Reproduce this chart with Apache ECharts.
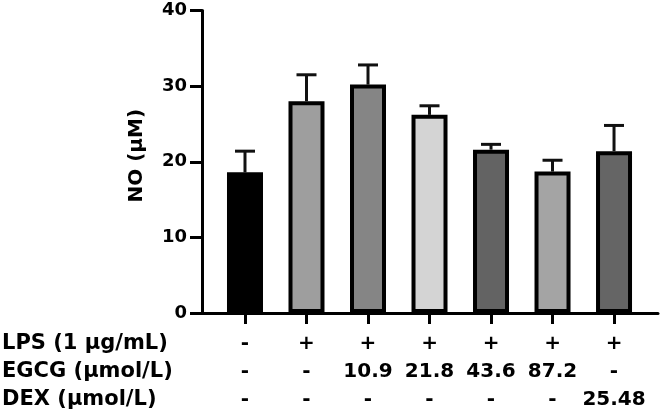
<!DOCTYPE html>
<html>
<head>
<meta charset="utf-8">
<script src="https://cdn.jsdelivr.net/npm/echarts@6/dist/echarts.min.js"></script>
<style>
html,body{margin:0;padding:0;background:#fff;}
#chart{width:661px;height:420px;}
</style>
</head>
<body>
<div id="chart"></div>
<script>
// Data
var groups = [0, 1, 2, 3, 4, 5, 6];
var meanNO = [18.6, 28.0, 30.2, 26.2, 21.6, 18.7, 21.4];
var sdNO = [2.8, 3.5, 2.6, 1.2, 0.7, 1.5, 3.4];
var barColors = ['#000000', '#9e9e9e', '#858585', '#d4d4d4', '#636363', '#a4a4a4', '#656565'];
var rowNames = ['LPS (1 μg/mL)', 'EGCG (μmol/L)', 'DEX (μmol/L)'];
var lpsRow = ['-', '+', '+', '+', '+', '+', '+'];
var egcgRow = ['-', '-', '10.9', '21.8', '43.6', '87.2', '-'];
var dexRow = ['-', '-', '-', '-', '-', '-', '25.48'];
var yTicks = [0, 10, 20, 30, 40];

var FONT = '"DejaVu Sans", Arial, sans-serif';
var chart = echarts.init(document.getElementById('chart'));

var barData = groups.map(function (g, i) {
  return { value: [g, meanNO[i]], itemStyle: { color: barColors[i], borderColor: '#000', borderWidth: 4 } };
});
var errData = groups.map(function (g, i) {
  return [g, meanNO[i], meanNO[i] + sdNO[i]];
});

chart.setOption({
  animation: false,
  backgroundColor: '#fff',
  title: {
    text: rowNames.join('\n'),
    left: 2,
    top: 330,
    padding: 0,
    textStyle: { fontFamily: FONT, fontWeight: 'bold', fontSize: 21, lineHeight: 28, color: '#000' }
  },
  grid: { left: 202, right: 3, top: 10.5, bottom: 107, containLabel: false },
  xAxis: {
    type: 'value',
    min: -0.699,
    max: 6.715,
    splitLine: { show: false },
    axisLine: { show: true, onZero: false, lineStyle: { color: '#000', width: 3 } },
    axisTick: { show: true, customValues: groups, length: 11, lineStyle: { color: '#000', width: 3 } },
    axisLabel: {
      customValues: groups,
      margin: 17,
      fontFamily: FONT, fontWeight: 'bold', fontSize: 20, lineHeight: 28, color: '#000',
      formatter: function (v) {
        var i = Math.round(v);
        return lpsRow[i] + '\n' + egcgRow[i] + '\n' + dexRow[i];
      }
    }
  },
  yAxis: {
    type: 'value',
    min: yTicks[0],
    max: yTicks[yTicks.length - 1],
    interval: 10,
    name: 'NO (μM)',
    nameLocation: 'middle',
    nameGap: 55,
    nameRotate: 90,
    nameTextStyle: { fontFamily: FONT, fontWeight: 'bold', fontSize: 20, color: '#000', padding: [0, 0, 0, 12] },
    splitLine: { show: false },
    axisLine: { show: true, onZero: false, lineStyle: { color: '#000', width: 3 } },
    axisTick: { show: true, length: 12, lineStyle: { color: '#000', width: 3 } },
    axisLabel: { margin: 15, fontFamily: FONT, fontWeight: 'bold', fontSize: 18, color: '#000' }
  },
  series: [
    {
      type: 'custom',
      z: 1,
      data: errData,
      renderItem: function (params, api) {
        var x = api.value(0);
        var lo = api.coord([x, api.value(1)]);
        var hi = api.coord([x, api.value(2)]);
        var capHalf = 10;
        var st = { stroke: '#111', lineWidth: 3, fill: null };
        return {
          type: 'group',
          children: [
            { type: 'line', shape: { x1: lo[0], y1: lo[1], x2: hi[0], y2: hi[1] }, style: st },
            { type: 'line', shape: { x1: hi[0] - capHalf, y1: hi[1], x2: hi[0] + capHalf, y2: hi[1] }, style: st }
          ]
        };
      }
    },
    {
      type: 'bar',
      z: 2,
      barWidth: 36,
      data: barData
    }
  ]
});
</script>
</body>
</html>
